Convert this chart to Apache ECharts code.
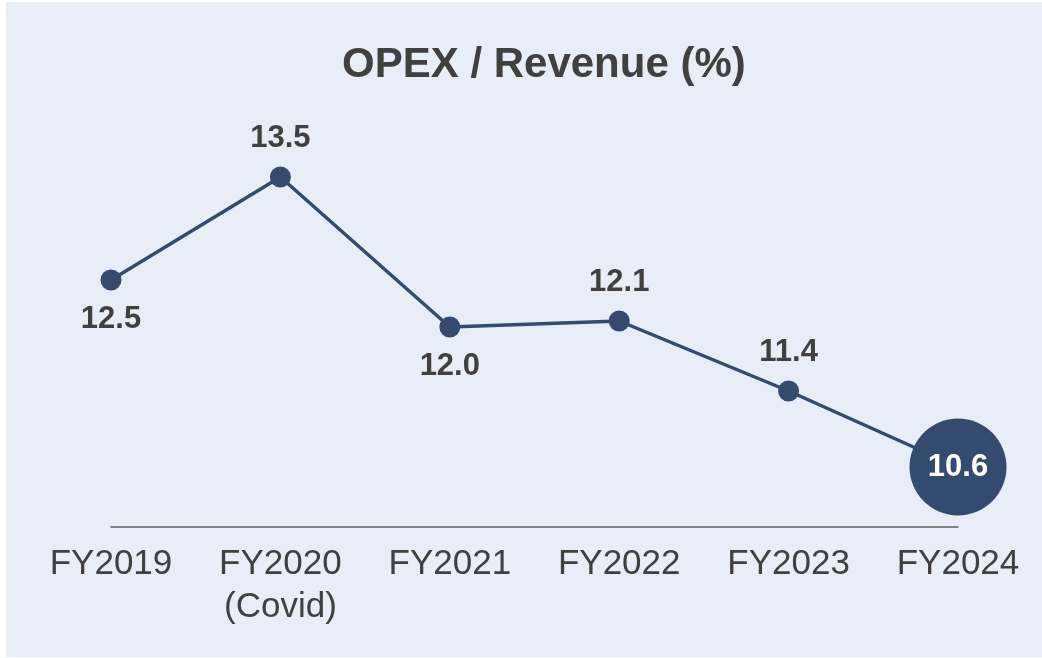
<!DOCTYPE html>
<html>
<head>
<meta charset="utf-8">
<script src="https://cdn.jsdelivr.net/npm/echarts@6/dist/echarts.min.js"></script>
<style>
  html, body { margin: 0; padding: 0; background: #ffffff; }
  #panel { position: absolute; left: 6px; top: 2px; right: 0; bottom: 1px; background: #e8eef8; }
  #main { position: absolute; left: 0; top: 0; width: 1042px; height: 658px; }
</style>
</head>
<body>
<div id="panel"></div>
<div id="main"></div>
<script>
// values
var years = ['FY2019', 'FY2020\n(Covid)', 'FY2021', 'FY2022', 'FY2023', 'FY2024'];
var opexRatio = [12.47, 13.5, 12.0, 12.06, 11.36, 10.6];
var labelSide = ['bottom', 'top', 'bottom', 'top', 'top', 'inside'];

var navy = '#344a6e';
var grey = '#404040';

var myChart = echarts.init(document.getElementById('main'));

var points = opexRatio.map(function (v, i) {
    var last = i === opexRatio.length - 1;
    return {
        value: v,
        symbolSize: last ? 97 : 21,
        label: {
            position: labelSide[i],
            color: last ? '#ffffff' : grey
        }
    };
});

var option = {
    title: {
        text: 'OPEX / Revenue (%)',
        left: 342,
        top: 44,
        padding: 0,
        textStyle: {
            fontFamily: 'Liberation Sans, Arial, sans-serif',
            fontSize: 42,
            fontWeight: 'bold',
            color: grey
        }
    },
    grid: { left: 111, right: 84, top: 127, bottom: 131 },
    xAxis: {
        type: 'category',
        data: years,
        boundaryGap: false,
        axisLine: { lineStyle: { color: '#5f5f5f', width: 1.5 } },
        axisTick: { show: false },
        axisLabel: {
            margin: 16,
            fontFamily: 'Liberation Sans, Arial, sans-serif',
            fontSize: 35,
            lineHeight: 43,
            color: grey
        }
    },
    yAxis: {
        type: 'value',
        min: 10,
        max: 14,
        show: false,
        splitLine: { show: false }
    },
    series: [{
        type: 'line',
        data: points,
        symbol: 'circle',
        lineStyle: { color: navy, width: 3.5 },
        itemStyle: { color: navy },
        label: {
            show: true,
            distance: 13,
            fontFamily: 'Liberation Sans, Arial, sans-serif',
            fontSize: 31,
            fontWeight: 'bold',
            formatter: function (p) { return p.value.toFixed(1); }
        },
        animation: false
    }]
};
myChart.setOption(option);
</script>
</body>
</html>
